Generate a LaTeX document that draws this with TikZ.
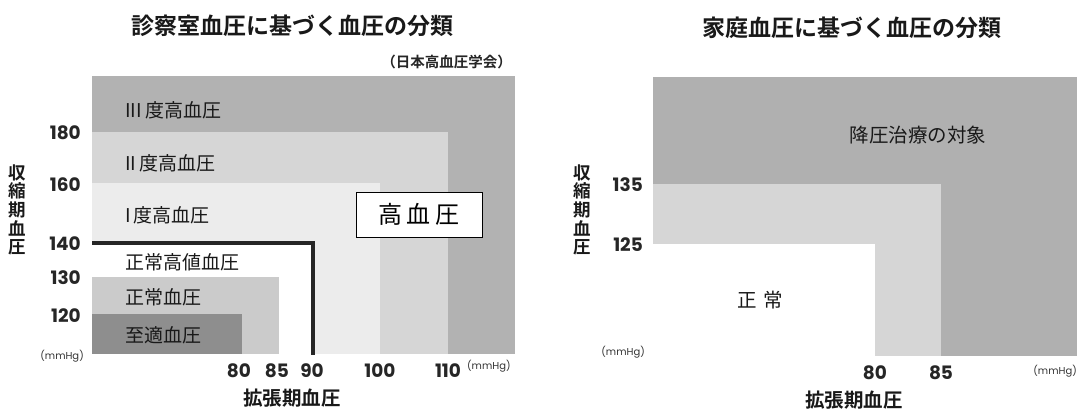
\documentclass[tikz,border=0pt]{standalone}
\usepackage{fontspec}
\setmainfont{Noto Sans CJK JP}[BoldFont={Noto Sans CJK JP Bold}]
\newfontfamily\numfont{Poppins}
\definecolor{gthree}{HTML}{B2B2B2}
\definecolor{gtwo}{HTML}{D6D6D6}
\definecolor{gone}{HTML}{ECECEC}
\definecolor{gnorm}{HTML}{CBCBCB}
\definecolor{gopt}{HTML}{8E8E8E}
\definecolor{rdark}{HTML}{B0B0B0}
\definecolor{rlight}{HTML}{D6D6D6}
\begin{document}
\begin{tikzpicture}[x=1pt,y=-1pt,
  lbl/.style={font=\fontsize{19}{19}\selectfont, anchor=west, inner sep=0pt, text=black!90},
  num/.style={font=\numfont\fontsize{18.5}{18.5}\selectfont\bfseries, inner sep=0pt, text=black!85},
  unit/.style={font=\numfont\fontsize{10}{10}\selectfont, inner sep=0pt, text=black!80},
  ttl/.style={font=\fontsize{23}{23}\selectfont\bfseries, inner sep=0pt, text=black!90},
  axt/.style={font=\fontsize{19.5}{19.5}\selectfont\bfseries, inner sep=0pt, text=black!90},
  vax/.style={font=\fontsize{17.5}{18.6}\selectfont\bfseries, align=center, inner sep=0pt, text=black!90}]
\useasboundingbox (0,0) rectangle (1079,410);

% ---------- left chart ----------
\fill[gthree] (92,76) rectangle (515,354);
\fill[gtwo] (92,132) rectangle (448,354);
\fill[gone] (92,183) rectangle (380,354);
\fill[white] (92,243) rectangle (313,354);
\fill[gnorm] (92,277) rectangle (279,354);
\fill[gopt] (92,314) rectangle (242,354);
\coordinate (tl) at (92,243);
\coordinate (tc) at (313,243);
\coordinate (tb) at (313,355);
\draw[line width=4pt, black!85] (tl) -- (tc) -- (tb);

\node[ttl] (ltitle) at (292,26) {診察室血圧に基づく血圧の分類};
\node[font=\fontsize{14.5}{15}\selectfont\bfseries, inner sep=0pt, anchor=east, text=black!85] (src) at (512,62) {（日本高血圧学会）};

\node[lbl] (l3) at (125,110) {III\,度高血圧};
\node[lbl] (l2) at (125,163) {II\,度高血圧};
\node[lbl] (l1) at (125,215) {I\,度高血圧};
\node[lbl] (lhn) at (125,262) {正常高値血圧};
\node[lbl] (ln) at (125,297) {正常血圧};
\node[lbl] (lopt) at (125,335) {至適血圧};

\node[draw, line width=1pt, fill=white, minimum width=126pt, minimum height=45pt, inner sep=0pt,
      font=\fontsize{24}{24}\selectfont] (hbox) at (419,214.5) {高\hspace{5pt}血\hspace{5pt}圧};

\node[num, anchor=east] (y180) at (81,133) {180};
\node[num, anchor=east] (y160) at (81,185) {160};
\node[num, anchor=east] (y140) at (81,244) {140};
\node[num, anchor=east] (y130) at (81,278) {130};
\node[num, anchor=east] (y120) at (81,316) {120};
\node[unit, anchor=east] (yu) at (84,356) {(mmHg)};
\node[vax] (lyt) at (17,210) {収\\縮\\期\\血\\圧};

\node[num] (x80) at (239,371) {80};
\node[num] (x85) at (277,371) {85};
\node[num] (x90) at (312,371) {90};
\node[num] (x100) at (380,371) {100};
\node[num] (x110) at (448,371) {110};
\node[unit, anchor=west] (xu) at (467,366) {(mmHg)};
\node[axt] (lxt) at (292,398) {拡張期血圧};

% ---------- right chart ----------
\fill[rdark] (653,77) rectangle (1077,356);
\fill[rlight] (653,184) rectangle (941,356);
\fill[white] (653,244) rectangle (875,356);

\node[ttl] (rtitle) at (852,28) {家庭血圧に基づく血圧の分類};
\node[font=\fontsize{19.5}{20}\selectfont, inner sep=0pt, text=black!90] (treat) at (918,135) {降圧治療の対象};
\node[font=\fontsize{19.5}{20}\selectfont, inner sep=0pt, text=black!90] (norm) at (760,300) {正\hspace{7pt}常};

\node[num, anchor=east] (y135) at (643,185) {135};
\node[num, anchor=east] (y125) at (643,245) {125};
\node[unit, anchor=east] (ryu) at (645,352) {(mmHg)};
\node[vax] (ryt) at (582,210) {収\\縮\\期\\血\\圧};

\node[num] (rx80) at (875,373) {80};
\node[num] (rx85) at (941,373) {85};
\node[unit, anchor=east] (rxu) at (1077,371) {(mmHg)};
\node[axt] (rxt) at (854,400) {拡張期血圧};
\end{tikzpicture}
\end{document}
